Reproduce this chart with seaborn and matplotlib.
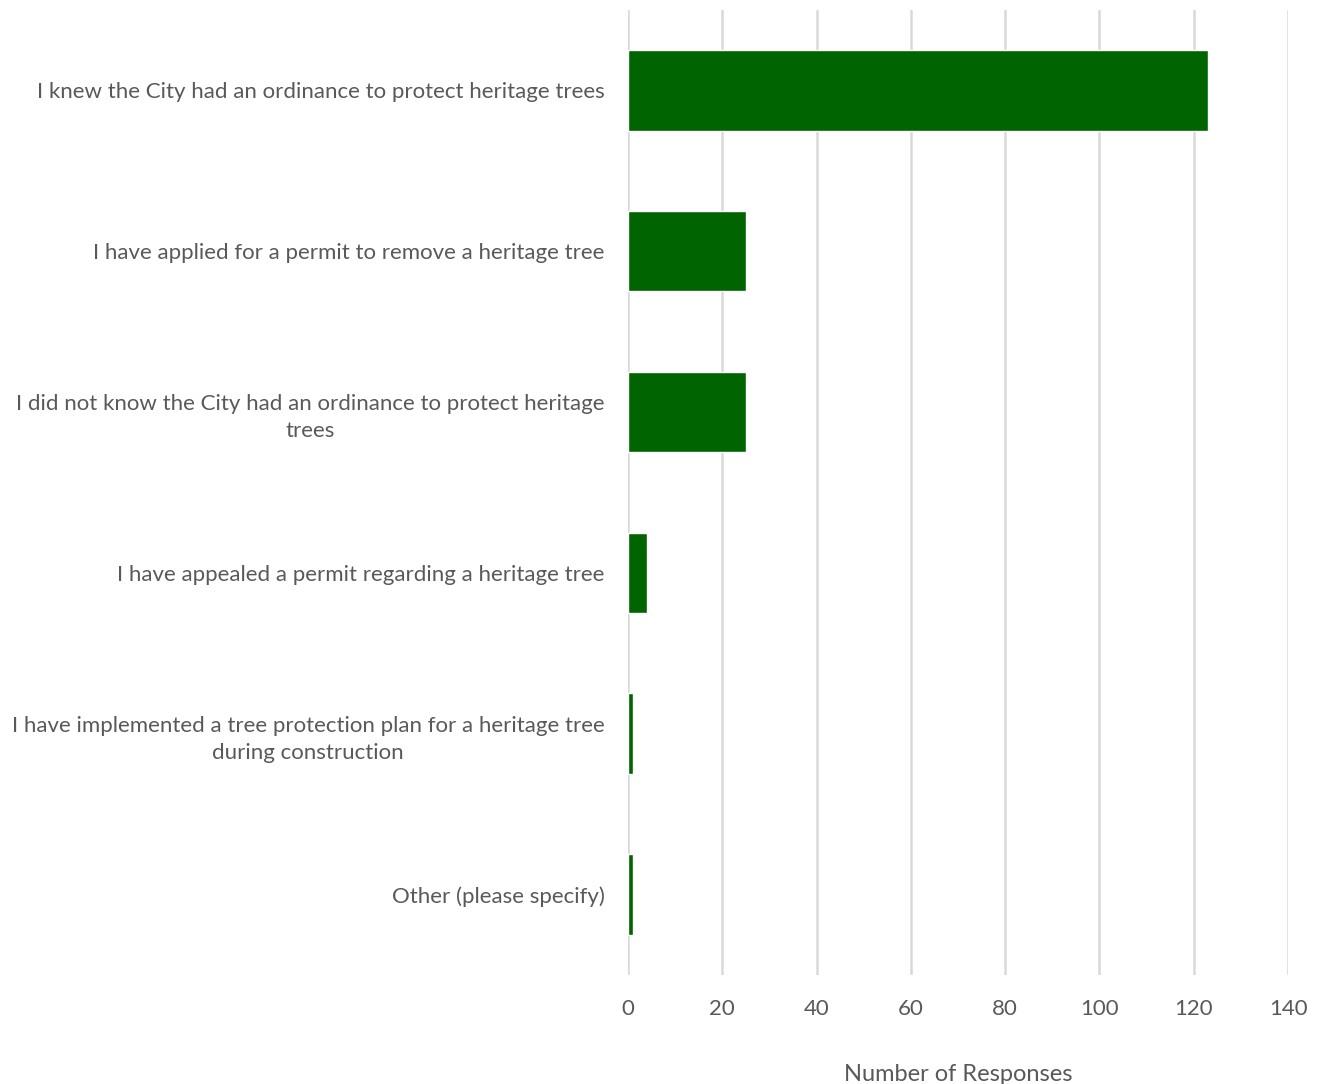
import matplotlib
matplotlib.use("Agg")
import matplotlib.pyplot as plt
import seaborn as sns
import pandas as pd

categories = [
    "I knew the City had an ordinance to protect heritage trees",
    "I have applied for a permit to remove a heritage tree",
    "I did not know the City had an ordinance to protect heritage\ntrees",
    "I have appealed a permit regarding a heritage tree",
    "I have implemented a tree protection plan for a heritage tree\nduring construction",
    "Other (please specify)",
]
responses = [123, 25, 25, 4, 1, 1]
x_ticks = [0, 20, 40, 60, 80, 100, 120, 140]

sns.set_theme(style="white")
plt.rcParams["font.family"] = ["Lato", "DejaVu Sans"]

text_color = "#595959"
df = pd.DataFrame({"category": categories, "responses": responses})

fig = plt.figure(figsize=(13.2, 10.84), dpi=100)
ax = fig.add_axes([0.4758, 0.1006, 0.5, 0.8902])

sns.barplot(data=df, y="category", x="responses", orient="h",
            color="#006400", saturation=1, width=0.5, ax=ax, zorder=3)

ax.set_xlim(0, 140)
ax.set_xticks(x_ticks)
ax.set_xticklabels([str(t) for t in x_ticks])
ax.xaxis.grid(True, color="#d9d9d9", linewidth=1.8, zorder=0)
ax.yaxis.grid(False)
for s in ax.spines.values():
    s.set_visible(False)

ax.tick_params(axis="x", length=0, pad=17, labelsize=16, labelcolor=text_color)
ax.tick_params(axis="y", length=0, pad=17, labelsize=16, labelcolor=text_color)
for lbl in ax.get_yticklabels():
    lbl.set_multialignment("center")
    lbl.set_linespacing(1.45)

ax.set_ylabel("")
ax.set_xlabel("Number of Responses", fontsize=17, color=text_color, labelpad=33)

fig.savefig("out.png", dpi=100)
